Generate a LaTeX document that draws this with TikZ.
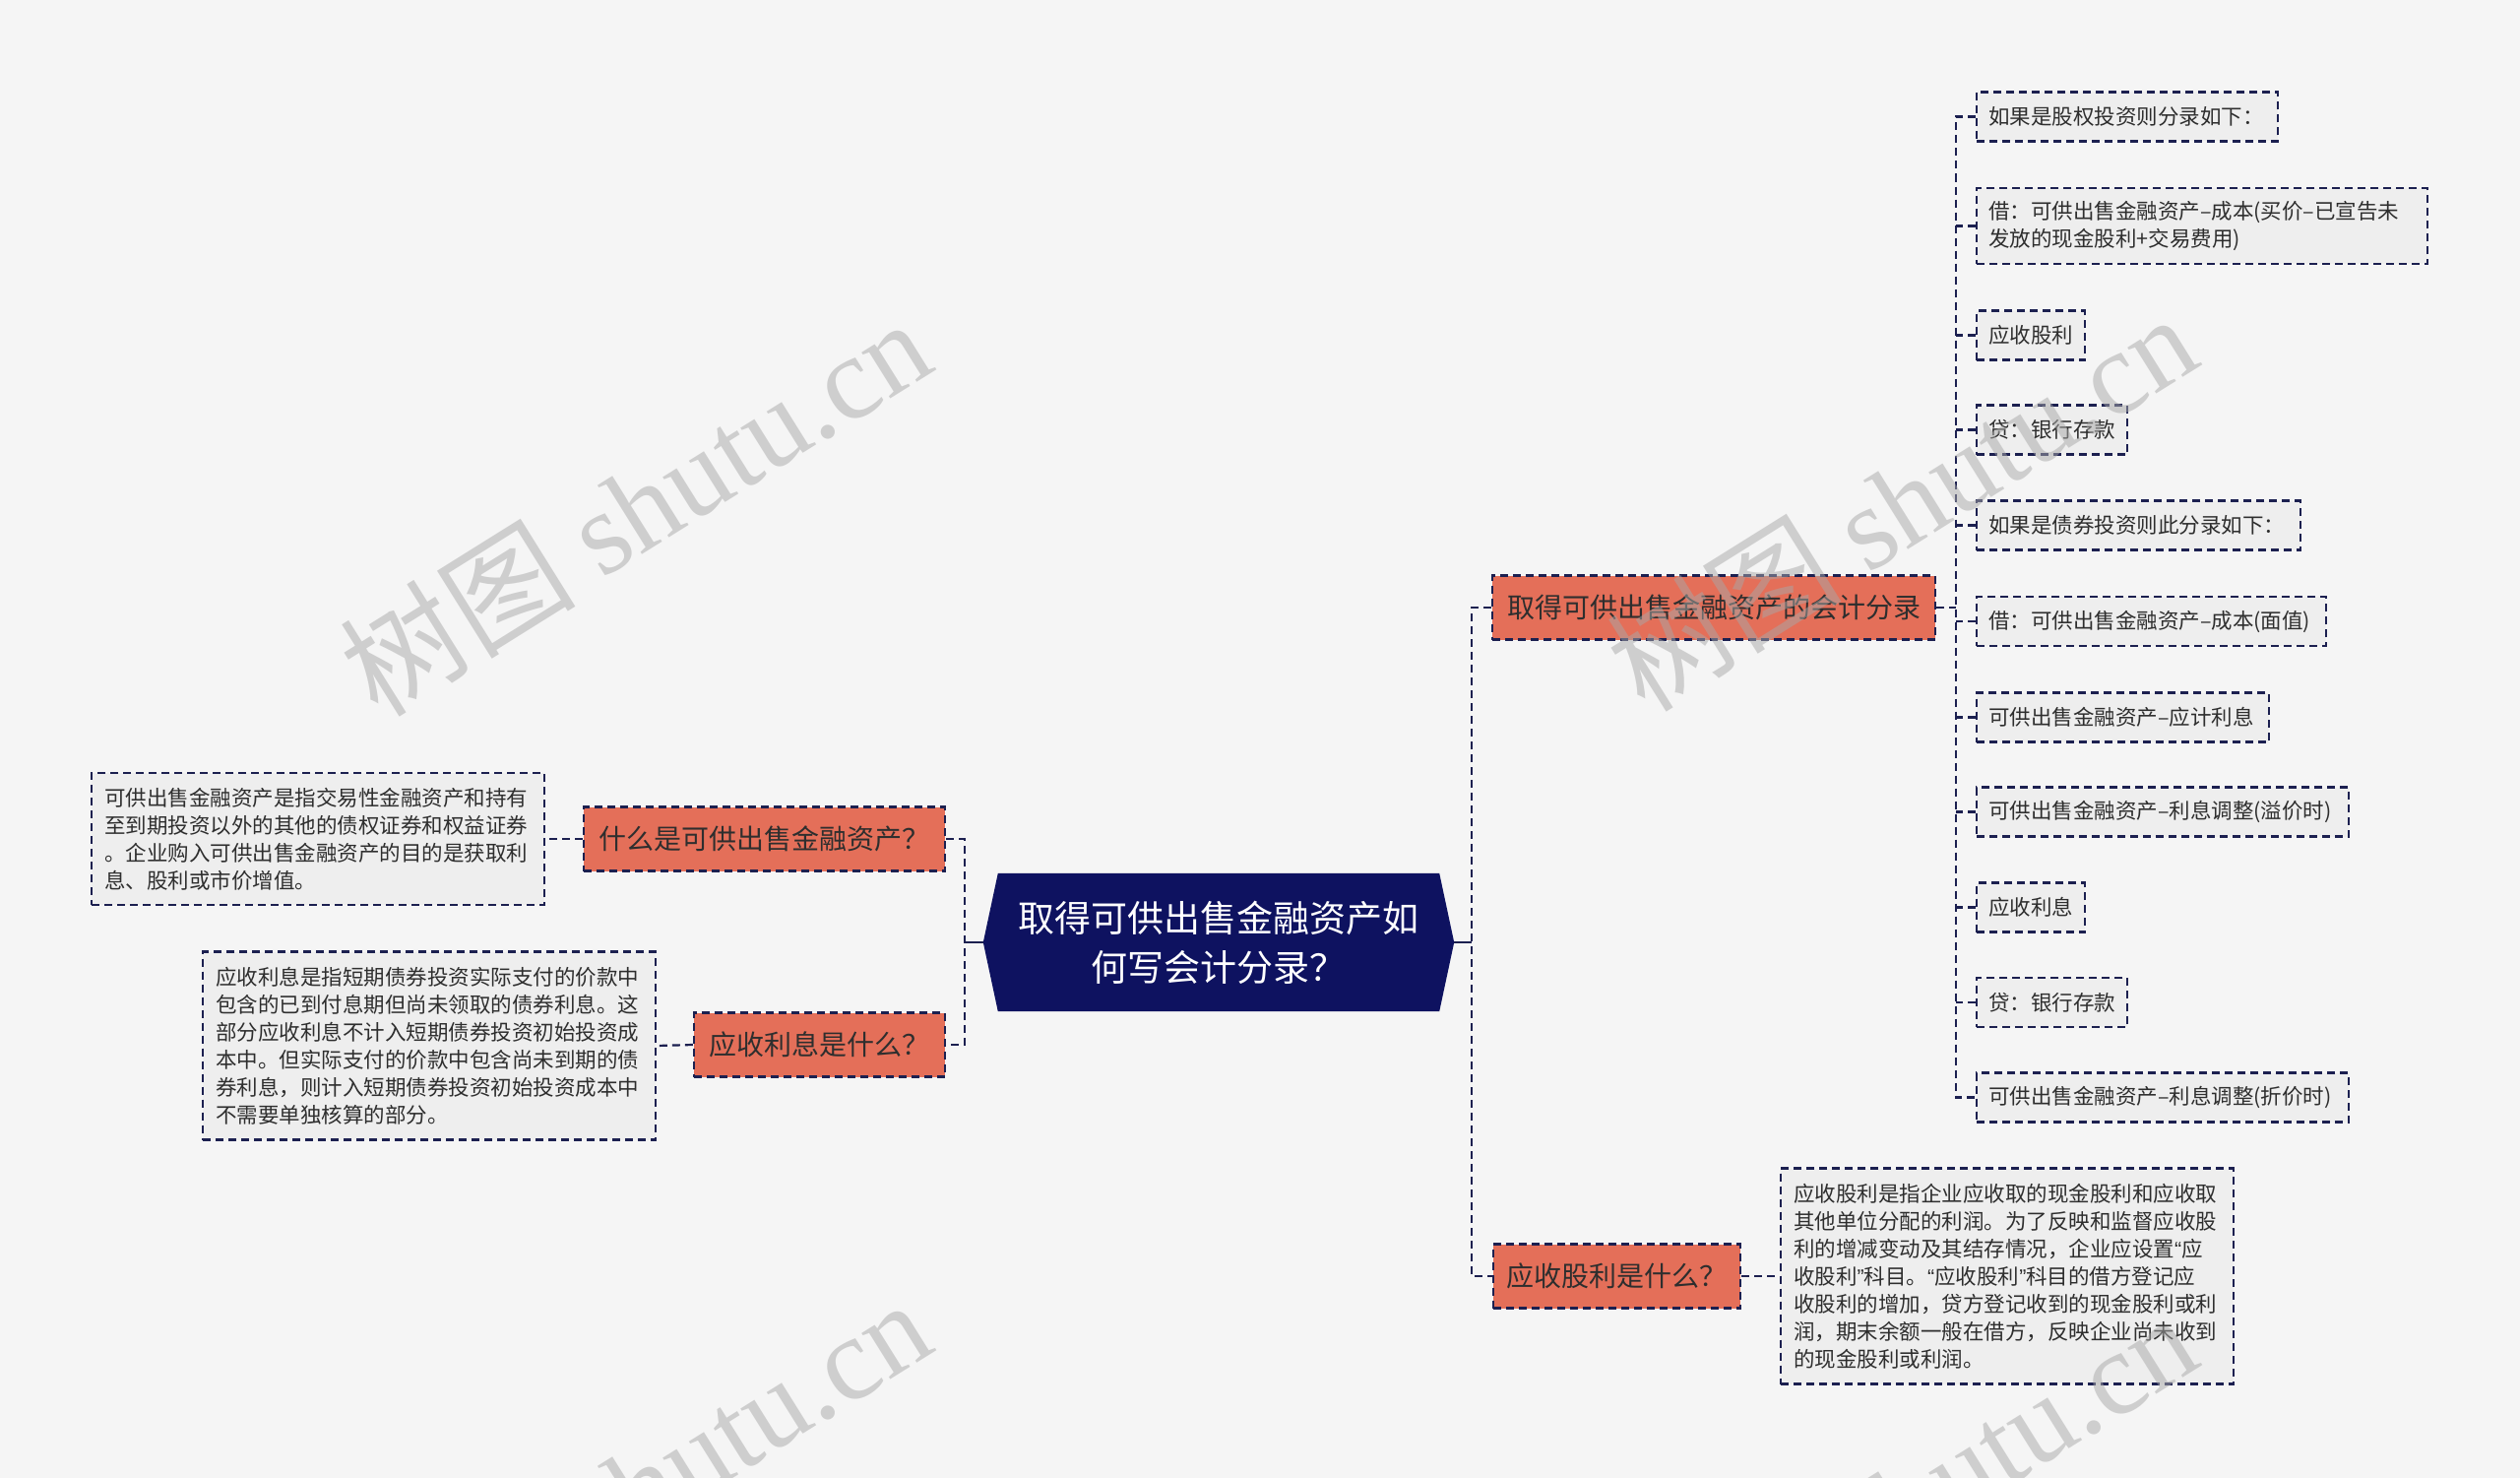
\documentclass[tikz,border=0pt]{standalone}
\usepackage{fontspec}
\setmainfont{Noto Sans CJK SC}
\newfontfamily\wmlatin{Liberation Serif}
\newfontfamily\qfont{Liberation Sans}
\newcommand{\myopq}{{\qfont “}}
\newcommand{\myclq}{{\qfont ”}}
\definecolor{bgc}{HTML}{F5F5F5}
\definecolor{navyc}{HTML}{0E1260}
\definecolor{linec}{HTML}{1C2050}
\definecolor{orangec}{HTML}{E46F59}
\definecolor{leaff}{HTML}{EEEEEE}
\definecolor{txtc}{HTML}{2E2E2E}
\definecolor{wmc}{HTML}{A8A8A8}
\begin{document}
\begin{tikzpicture}[x=1pt,y=-1pt,
  dashpat/.style={line width=2.2pt, dash pattern=on 8pt off 5pt},
  link/.style={draw=linec, dashpat},
  solidlink/.style={draw=linec, line width=2.2pt},
  qnode/.style={draw=linec, dashpat, fill=orangec, text=txtc,
    font=\fontsize{28}{34}\selectfont, minimum height=65pt,
    inner xsep=0pt, inner ysep=0pt},
  leaf/.style={draw=linec, dashpat, fill=leaff, text=txtc,
    font=\fontsize{21.5}{28}\selectfont, anchor=west, minimum height=50pt,
    inner xsep=12pt, inner ysep=8pt, align=left},
  desc/.style={leaf, anchor=center, text width=434pt, inner xsep=13pt},
  centralnode/.style={text=white, font=\fontsize{37}{50}\selectfont,
    minimum width=448pt, minimum height=140pt, align=center, inner sep=0pt},
  wm/.style={text=wmc, text opacity=0.5, rotate=32,
    font=\fontsize{120}{120}\selectfont}
]
\useasboundingbox (0,0) rectangle (2560,1501);
\fill[bgc] (0,0) rectangle (2560,1501);

% central node
\node[centralnode] (c) at (1238,957) {};
\fill[navyc] ([xshift=-15pt]c.west) -- (c.north west) -- (c.north east)
  -- ([xshift=15pt]c.east) -- (c.south east) -- (c.south west) -- cycle;
\node[centralnode] (ct) at (c.center) {取得可供出售金融资产如\\何写会计分录？};
\coordinate (cl) at ([xshift=-15pt]c.west);
\coordinate (cr) at ([xshift=15pt]c.east);

% level-1 nodes
\node[qnode, minimum width=367pt] (q1) at (776.5,852) {什么是可供出售金融资产？};
\node[qnode, minimum width=255pt] (q2) at (832.5,1061) {应收利息是什么？};
\node[qnode, minimum width=450pt] (q3) at (1741,617) {取得可供出售金融资产的会计分录};
\node[qnode, minimum width=251pt] (q4) at (1642.5,1296) {应收股利是什么？};

% descriptions
\node[desc, minimum height=134pt] (d1) at (323,852) {可供出售金融资产是指交易性金融资产和持有\\至到期投资以外的其他的债权证券和权益证券\\。企业购入可供出售金融资产的目的是获取利\\息、股利或市价增值。};
\node[desc, minimum height=191pt] (d2) at (436,1062) {应收利息是指短期债券投资实际支付的价款中\\包含的已到付息期但尚未领取的债券利息。这\\部分应收利息不计入短期债券投资初始投资成\\本中。但实际支付的价款中包含尚未到期的债\\券利息，则计入短期债券投资初始投资成本中\\不需要单独核算的部分。};
\node[desc, minimum height=219pt] (d3) at (2039,1296) {应收股利是指企业应收取的现金股利和应收取\\其他单位分配的利润。为了反映和监督应收股\\利的增减变动及其结存情况，企业应设置\myopq 应\\收股利\myclq 科目。\myopq 应收股利\myclq 科目的借方登记应\\收股利的增加，贷方登记收到的现金股利或利\\润，期末余额一般在借方，反映企业尚未收到\\的现金股利或利润。};

% leaves
\node[leaf, text width=282pt] (l1) at (2007,118.5) {如果是股权投资则分录如下：};
\node[leaf, text width=434pt, minimum height=77pt] (l2) at (2007,229.5) {借：可供出售金融资产–成本(买价–已宣告未\\发放的现金股利+交易费用)};
\node[leaf, text width=86pt] (l3) at (2007,340.5) {应收股利};
\node[leaf, text width=129pt] (l4) at (2007,436.5) {贷：银行存款};
\node[leaf, text width=305pt] (l5) at (2007,533.5) {如果是债券投资则此分录如下：};
\node[leaf, text width=331pt] (l6) at (2007,631) {借：可供出售金融资产–成本(面值)};
\node[leaf, text width=273pt] (l7) at (2007,728.5) {可供出售金融资产–应计利息};
\node[leaf, text width=354pt] (l8) at (2007,824.5) {可供出售金融资产–利息调整(溢价时)};
\node[leaf, text width=86pt] (l9) at (2007,921.5) {应收利息};
\node[leaf, text width=129pt] (l10) at (2007,1018) {贷：银行存款};
\node[leaf, text width=354pt] (l11) at (2007,1114.5) {可供出售金融资产–利息调整(折价时)};

% connectors
\coordinate (lj) at (980,957);
\coordinate (rj) at (1495,957);
\coordinate (fj) at (1987,617);
\draw[solidlink] (cl) -- (lj);
\draw[solidlink] (cr) -- (rj);
\draw[link] (q1.east) -| (lj) |- (q2.east);
\draw[link] (q3.west) -| (rj) |- (q4.west);
\draw[link] (q1.west) -- (d1.east);
\draw[link] (q2.west) -- (d2.east);
\draw[link] (q4.east) -- (d3.west);
\draw[link] (q3.east) -- (fj);
\draw[link] (l1.west) -| (fj) |- (l11.west);
\foreach \i in {2,...,10} {
  \draw[link] (l\i.west) -- (fj |- l\i.west);
}

% watermarks
\node[wm] (w1) at (645,514) {树图 {\wmlatin shutu.cn}};
\node[wm] (w2) at (1931,509) {树图 {\wmlatin shutu.cn}};
\node[wm] (w3) at (645,1510) {树图 {\wmlatin shutu.cn}};
\node[wm] (w4) at (1931,1525) {树图 {\wmlatin shutu.cn}};
\end{tikzpicture}
\end{document}
